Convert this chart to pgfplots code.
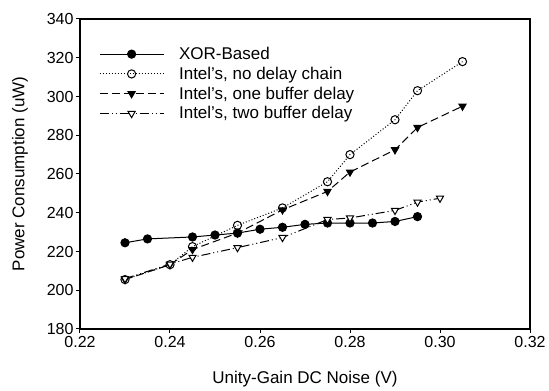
\documentclass[border=0pt]{standalone}
\usepackage{fontspec}
\setmainfont{Liberation Sans}
\usepackage{pgfplots}
\pgfplotsset{compat=1.18}
\begin{document}
\begin{tikzpicture}
\path (-80bp,-61bp) rectangle (469bp,329bp);
\begin{axis}[
  at={(0,0)}, anchor=south west,
  scale only axis, width=450bp, height=310bp,
  xmin=0.22, xmax=0.32, ymin=180, ymax=340,
  xtick={0.22,0.24,...,0.32}, ytick={180,200,...,340},
  xticklabel style={/pgf/number format/.cd,fixed,fixed zerofill,precision=2},
  /pgf/number format/assume math mode=true,
  tick align=outside, tick pos=left,
  major tick length=4bp,
  tick style={black, line width=1bp},
  axis line style={line width=1.3bp},
  ticklabel style={font=\fontsize{16bp}{19bp}\selectfont},
  yticklabel style={xshift=1bp},
  label style={font=\fontsize{17bp}{20bp}\selectfont},
  xlabel={Unity-Gain DC Noise (V)},
  ylabel={Power Consumption (uW)},
  xlabel style={at={(axis description cs:0.5,-0.161)},anchor=center},
  ylabel style={at={(axis description cs:-0.1333,0.5)},anchor=center},
  legend style={draw=none, fill=none, at={(rel axis cs:0.042,0.916)}, anchor=north west,
    inner sep=0pt, font=\fontsize{17bp}{20bp}\selectfont,
    row sep=2bp, column sep=13bp},
  legend cell align=left,
  legend image code/.code={\draw[mark repeat=2,mark phase=2,#1] plot coordinates {(0bp,0bp) (32bp,0bp) (64bp,0bp)};},
  every axis plot/.append style={black, line width=1bp, mark size=4.1bp},
]
\addplot[solid, mark=*, mark options={solid, fill=black}] coordinates {
(0.23,224.5) (0.235,226.5) (0.245,227.5) (0.25,228.5) (0.255,229.5) (0.26,231.5)
(0.265,232.5) (0.27,234) (0.275,234.7) (0.28,234.7) (0.285,234.7) (0.29,235.5) (0.295,238)};
\addlegendentry{XOR-Based}
\addplot[dash pattern=on 1bp off 2bp, mark=o, mark options={solid, fill=white}] coordinates {
(0.23,205.5) (0.24,213.2) (0.245,222.5) (0.255,233.5) (0.265,242.5) (0.275,256)
(0.28,270) (0.29,288) (0.295,303) (0.305,318)};
\addlegendentry{Intel's, no delay chain}
\addplot[dash pattern=on 8bp off 4bp, mark=triangle*, mark options={solid, fill=black, rotate=180}] coordinates {
(0.23,205.5) (0.24,213.2) (0.245,221) (0.255,229.5) (0.265,241.5) (0.275,251)
(0.28,261) (0.29,272.5) (0.295,284) (0.305,295)};
\addlegendentry{Intel's, one buffer delay}
\addplot[dash pattern=on 9bp off 3bp on 1bp off 3bp on 1bp off 3bp, mark=triangle*, mark options={solid, fill=white, rotate=180}] coordinates {
(0.23,206) (0.24,213.5) (0.245,217) (0.255,222) (0.265,227.2) (0.275,236.5)
(0.28,237.3) (0.29,241.2) (0.295,245.5) (0.30,247.5)};
\addlegendentry{Intel's, two buffer delay}
\end{axis}
\end{tikzpicture}
\end{document}
